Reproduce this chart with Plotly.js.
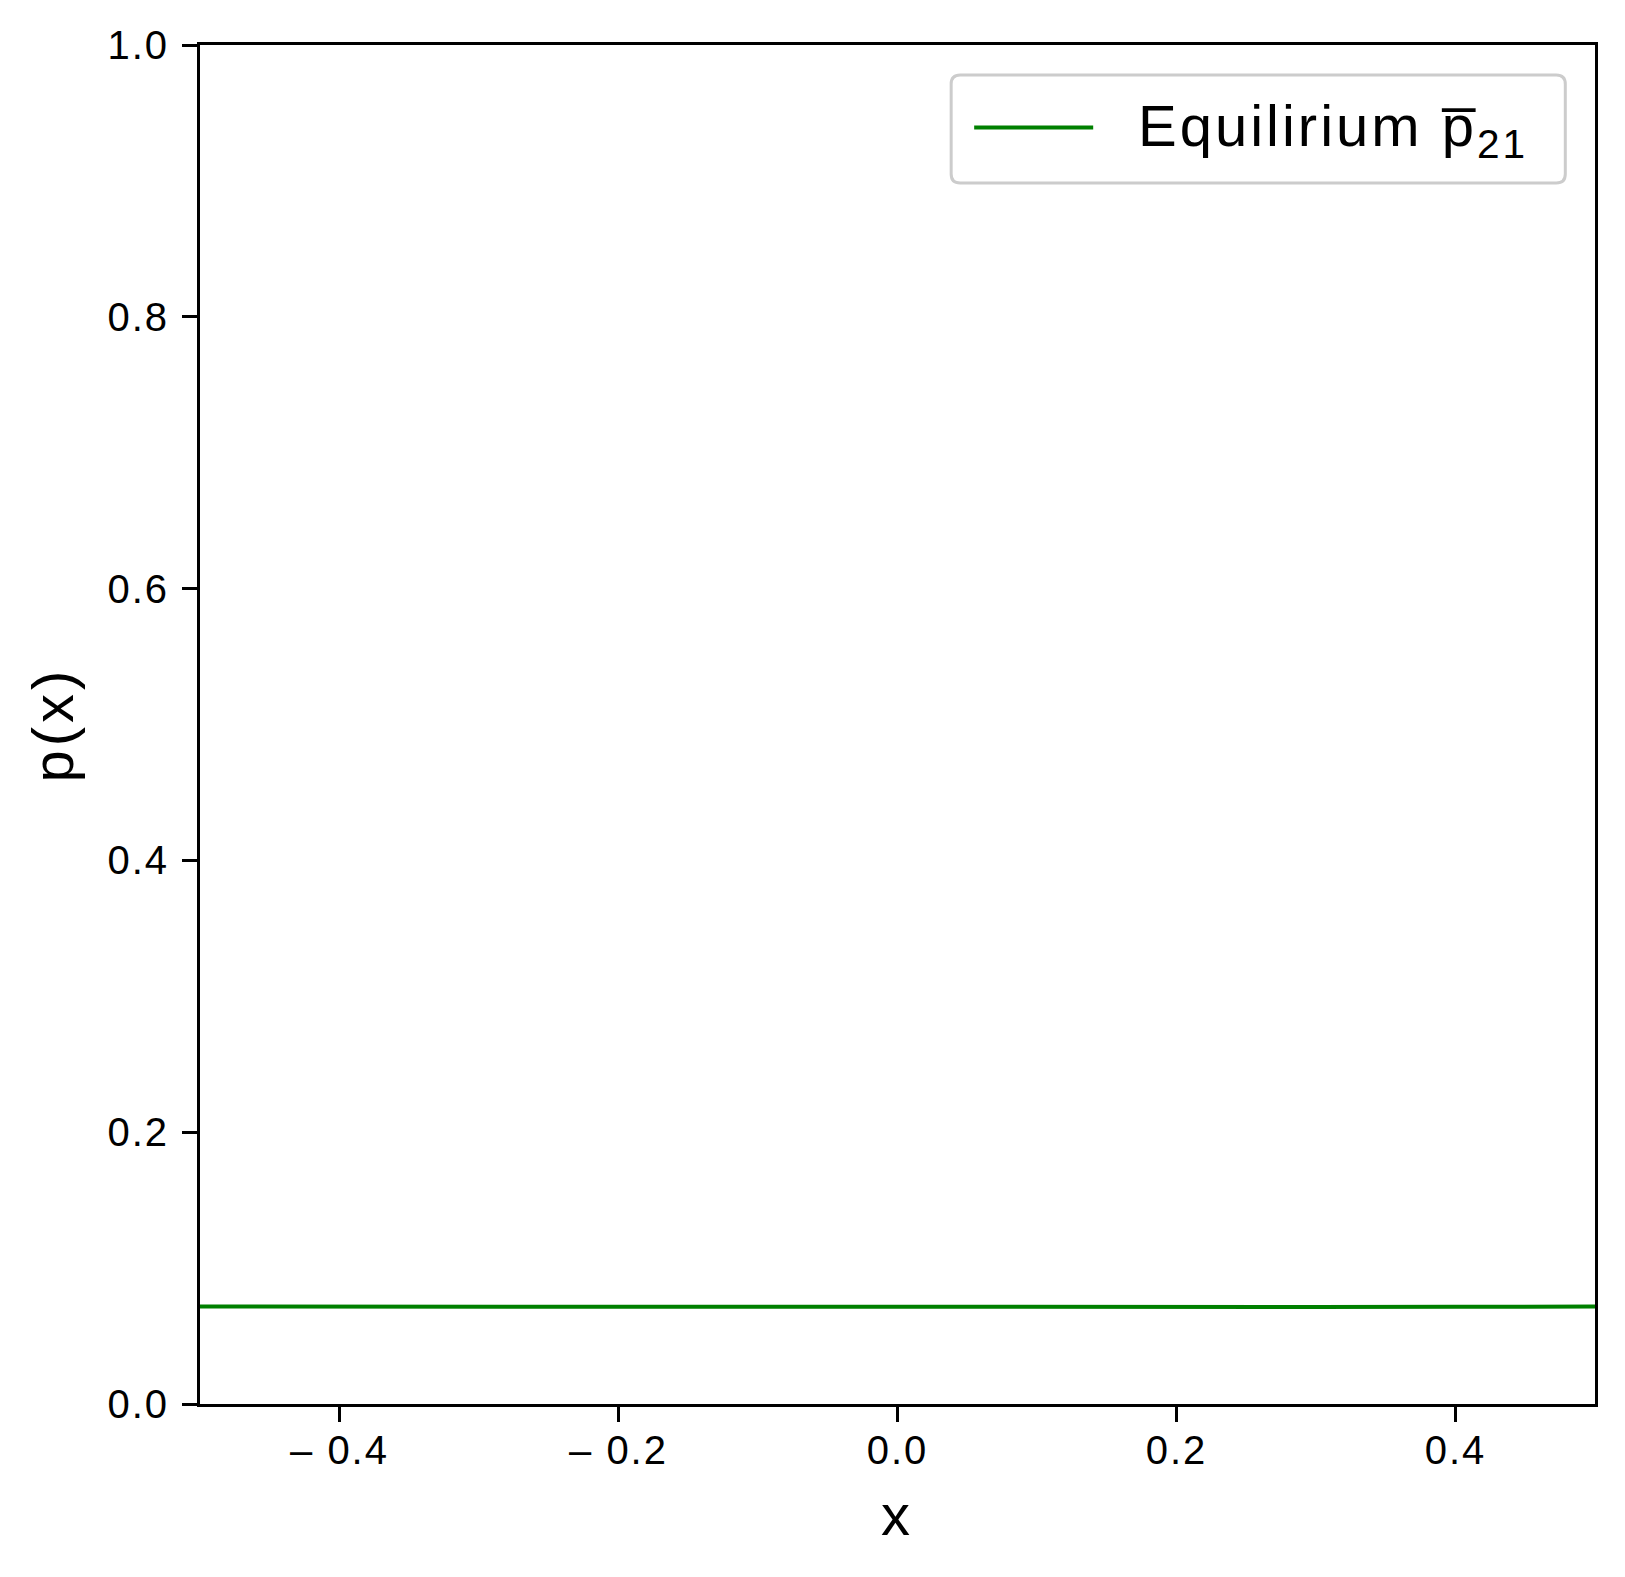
<!DOCTYPE html>
<html>
<head>
<meta charset="utf-8">
<script src="https://cdn.plot.ly/plotly-3.0.1.min.js"></script>
<style>
  html, body { margin: 0; padding: 0; background: #fff; }
  #graph { width: 1625px; height: 1577px; }
  #graph .xtick text, #graph .ytick text { letter-spacing: 2px; }
  #graph .annotation-text { letter-spacing: 3px; }
  #graph .xtitle, #graph .ytitle { letter-spacing: 4px; }
</style>
</head>
<body>
<div id="graph"></div>
<script>
// equilibrium density
let xs = [-0.5, -0.4, -0.3, -0.2, -0.1, 0.0, 0.1, 0.2, 0.3, 0.4, 0.5];
let p21 = [0.0717, 0.0716, 0.0714, 0.0713, 0.0712, 0.0712, 0.0712, 0.0713, 0.0714, 0.0716, 0.0717];

let xTicks = [-0.4, -0.2, 0.0, 0.2, 0.4];
let xTickText = ['\u2013 0.4', '\u2013 0.2', '0.0', '0.2', '0.4'];
let yTicks = [0.0, 0.2, 0.4, 0.6, 0.8, 1.0];
let yTickText = ['0.0', '0.2', '0.4', '0.6', '0.8', '1.0'];

let legendName = 'Equilirium p\u0305<sub>21</sub>';

let font = 'Liberation Sans, Arial, sans-serif';

// plot box in pixels
let L = 200, R = 1594.7, T = 45, B = 1404;
function px(x) { return (x - L) / (R - L); }
function py(y) { return (B - y) / (B - T); }

// rounded legend frame
function roundRect(x0, y0, x1, y1, r) {
    let rx = r / (R - L), ry = r / (B - T);
    let a = px(x0), b = px(x1), top = py(y0), bot = py(y1);
    return 'M' + (a + rx) + ',' + top +
        ' L' + (b - rx) + ',' + top +
        ' Q' + b + ',' + top + ' ' + b + ',' + (top - ry) +
        ' L' + b + ',' + (bot + ry) +
        ' Q' + b + ',' + bot + ' ' + (b - rx) + ',' + bot +
        ' L' + (a + rx) + ',' + bot +
        ' Q' + a + ',' + bot + ' ' + a + ',' + (bot + ry) +
        ' L' + a + ',' + (top - ry) +
        ' Q' + a + ',' + top + ' ' + (a + rx) + ',' + top + ' Z';
}

let layout = {
    width: 1625,
    height: 1577,
    margin: {l: L, r: 1625 - R, t: T, b: 1577 - B, pad: 0},
    paper_bgcolor: '#fff',
    plot_bgcolor: '#fff',
    showlegend: false,
    font: {family: font, color: '#000'},
    xaxis: {
        range: [-0.5, 0.5],
        tickvals: xTicks,
        ticktext: xTickText,
        ticks: 'outside',
        ticklen: 15,
        tickwidth: 3,
        tickcolor: '#000',
        ticklabelstandoff: -6,
        tickfont: {size: 40, family: font},
        showgrid: false,
        zeroline: false,
        showline: true,
        linecolor: '#000',
        linewidth: 3,
        mirror: true,
        title: {text: 'x', font: {size: 58, family: font}, standoff: 24}
    },
    yaxis: {
        range: [0, 1],
        tickvals: yTicks,
        ticktext: yTickText,
        ticks: 'outside',
        ticklen: 15,
        tickwidth: 3,
        tickcolor: '#000',
        ticklabelstandoff: 5,
        tickfont: {size: 40, family: font},
        showgrid: false,
        zeroline: false,
        showline: true,
        linecolor: '#000',
        linewidth: 3,
        mirror: true,
        title: {text: 'p(x)', font: {size: 58, family: font}, standoff: 22}
    },
    shapes: [
        {
            type: 'path', xref: 'paper', yref: 'paper',
            path: roundRect(951, 75, 1565, 183, 9),
            line: {color: '#cccccc', width: 3},
            fillcolor: 'rgba(255,255,255,0.8)'
        },
        {
            type: 'line', xref: 'paper', yref: 'paper',
            x0: px(974), x1: px(1093), y0: py(127.5), y1: py(127.5),
            line: {color: 'green', width: 4}
        }
    ],
    annotations: [
        {
            xref: 'paper', yref: 'paper',
            x: px(1157), y: py(130),
            xanchor: 'left', yanchor: 'middle',
            showarrow: false,
            text: legendName,
            font: {size: 58, family: font, color: '#000'}
        }
    ]
};

Plotly.newPlot(
    'graph',
    [{
        mode: 'lines',
        type: 'scatter',
        x: xs,
        y: p21,
        name: legendName,
        line: {color: 'green', width: 4},
        hoverinfo: 'skip'
    }],
    layout,
    {staticPlot: true}
);
</script>
</body>
</html>
